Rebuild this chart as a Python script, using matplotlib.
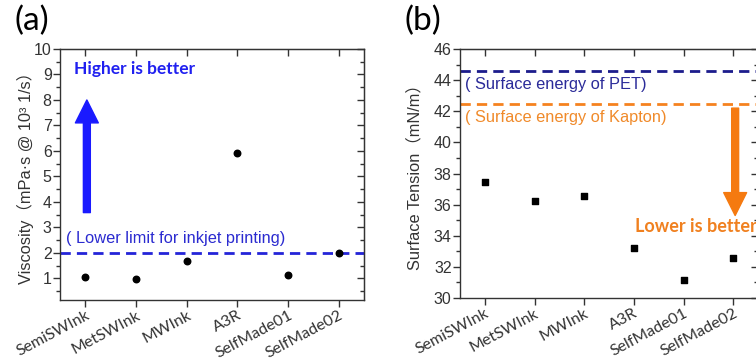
import numpy as np
import matplotlib
matplotlib.use("Agg")
import matplotlib.pyplot as plt
from matplotlib.ticker import MultipleLocator

plt.rcParams['font.family'] = ['Liberation Sans', 'Noto Sans CJK SC']

inks = ["SemiSWInk", "MetSWInk", "MWInk", "A3R", "SelfMade01", "SelfMade02"]
viscosity = [1.05, 0.97, 1.7, 5.9, 1.15, 2.0]
surface_tension = [37.47, 36.26, 36.58, 33.22, 31.13, 32.6]

visc_limit = 2.0
pet_energy = 44.58
kapton_energy = 42.45

visc_ticks = [1, 2, 3, 4, 5, 6, 7, 8, 9, 10]
st_ticks = [30, 32, 34, 36, 38, 40, 42, 44, 46]

TICK_COLOR = "#333333"


def style_axes(ax, yticks, yminor):
  x = np.arange(1, len(inks) + 1)
  ax.set_xticks(x)
  ax.set_xticklabels(inks, rotation=28, ha="right", va="top", family="Lato",
                     rotation_mode="anchor", fontsize=12.2, color="#222222")
  ax.set_yticks(yticks)
  ax.yaxis.set_minor_locator(MultipleLocator(yminor))
  ax.tick_params(axis="both", which="major", direction="out", length=5,
                 width=1, labelsize=11.5, labelcolor=TICK_COLOR, color=TICK_COLOR)
  ax.tick_params(axis="y", which="minor", direction="out", length=3,
                 width=1, color=TICK_COLOR)
  ax.tick_params(axis="y", pad=1)
  ax.tick_params(axis="x", pad=1)
  for s in ax.spines.values():
    s.set_color(TICK_COLOR)
    s.set_linewidth(1)

  top = ax.secondary_xaxis("top")
  top.set_xticks(x)
  top.tick_params(direction="in", length=5, width=1, labeltop=False, color=TICK_COLOR)
  top.spines["top"].set_color(TICK_COLOR)

  right = ax.secondary_yaxis("right")
  right.set_yticks(yticks)
  right.yaxis.set_minor_locator(MultipleLocator(yminor))
  right.tick_params(which="major", direction="in", length=5, width=1,
                    labelright=False, color=TICK_COLOR)
  right.tick_params(which="minor", direction="in", length=3, width=1, color=TICK_COLOR)
  right.spines["right"].set_color(TICK_COLOR)


fig = plt.figure(figsize=(7.56, 3.61), dpi=100)

# (a) viscosity
ax1 = fig.add_axes([60 / 756, 61 / 361, 304 / 756, 251 / 361])
x = np.arange(1, len(inks) + 1)
ax1.scatter(x, viscosity, s=22, color="black", zorder=3)
ax1.axhline(visc_limit, color="#2424d8", lw=2, dashes=(3.7, 2.2))
ax1.text(0.61, 2.25, "( Lower limit for inkjet printing)", color="#2b2bd0",
         fontsize=11.8, va="bottom", ha="left")
ax1.text(0.77, 9.2, "Higher is better", color="#2020f0", fontsize=12.5,
         fontweight="bold", family="Lato", va="center", ha="left")
ax1.annotate("", xy=(1.03, 8.0), xytext=(1.03, 3.58),
             arrowprops=dict(arrowstyle="simple,head_length=1.65,head_width=1.65,tail_width=0.5",
                             mutation_scale=10, color="#1a1aff", shrinkA=0, shrinkB=0))
ax1.set_xlim(0.5, 6.5)
ax1.set_ylim(0.15, 10)
style_axes(ax1, visc_ticks, 0.5)
ax1.set_ylabel("Viscosity（mPa·s @ 10³ 1/s）", fontsize=11.8, color=TICK_COLOR)
ax1.yaxis.set_label_coords(-0.087, 0.5)
fig.text(14 / 756, 1 - 21 / 361, "(a)", fontsize=24, family="Lato", va="center", ha="left")

# (b) surface tension
ax2 = fig.add_axes([460 / 756, 63 / 361, 298 / 756, 249 / 361])
ax2.scatter(x, surface_tension, s=18, marker="s", color="black", zorder=3)
ax2.axhline(pet_energy, color="#1c1c8c", lw=2, dashes=(3.7, 2.2))
ax2.axhline(kapton_energy, color="#f5821f", lw=2, dashes=(3.7, 2.2))
ax2.text(0.6, 43.75, "( Surface energy of PET)", color="#2b2b99",
         fontsize=11.8, va="center", ha="left")
ax2.text(0.6, 41.6, "( Surface energy of Kapton)", color="#f08a2a",
         fontsize=11.8, va="center", ha="left")
ax2.annotate("", xy=(6.04, 35.3), xytext=(6.04, 42.2),
             arrowprops=dict(arrowstyle="simple,head_length=1.65,head_width=1.65,tail_width=0.5",
                             mutation_scale=10, color="#f57a10", shrinkA=0, shrinkB=0))
ax2.text(5.25, 34.6, "Lower is better", color="#f0801f", fontsize=13,
         fontweight="bold", family="Lato", va="center", ha="center")
ax2.set_xlim(0.5, 6.5)
ax2.set_ylim(30, 46)
style_axes(ax2, st_ticks, 1)
ax2.set_ylabel("Surface Tension（mN/m）", fontsize=11.8, color=TICK_COLOR)
ax2.yaxis.set_label_coords(-0.125, 0.5)
fig.text(404 / 756, 1 - 21 / 361, "(b)", fontsize=24, family="Lato", va="center", ha="left")

fig.savefig("out.png", dpi=100)
